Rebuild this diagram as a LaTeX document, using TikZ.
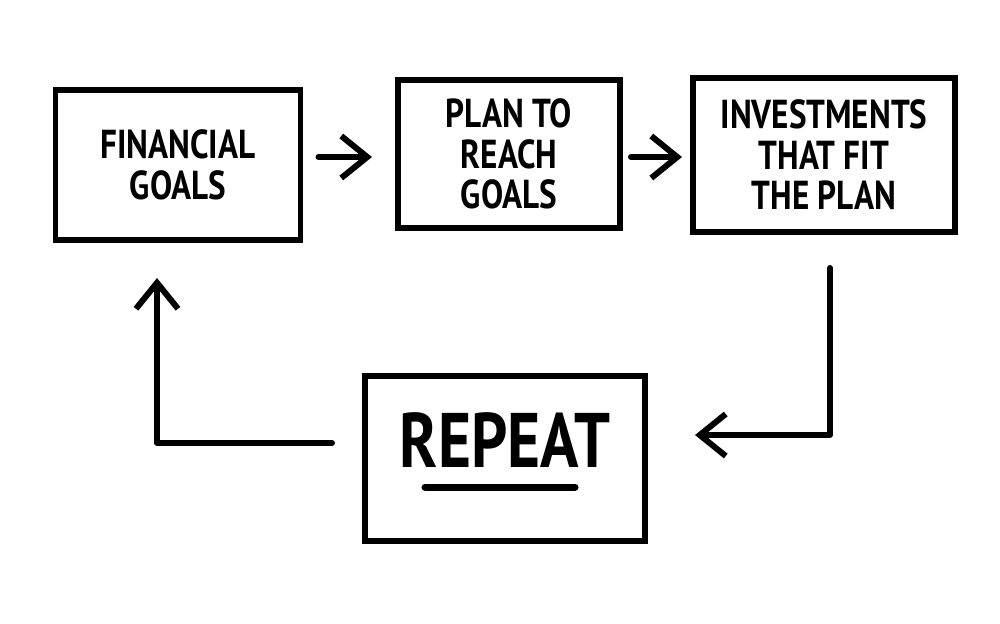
\documentclass[tikz,border=0pt]{standalone}
\usepackage{fontspec}
\setmainfont{PT Sans}[FakeStretch=0.82]
\usetikzlibrary{arrows.meta}
\tikzset{
>={Straight Barb[length=2.6mm,width=4.2mm]},
box/.style={draw,line width=1.7pt,align=center,inner sep=0pt,
  font=\fontsize{11.5}{11.5}\selectfont\bfseries},
freccia/.style={->,line width=1.7pt,line cap=round,line join=round}}

\begin{document}
\begin{tikzpicture}[y=-1cm]
\useasboundingbox (0,0) rectangle (10,6.23);

\node[box,minimum width=2.45cm,minimum height=1.5cm] (fin) at (1.78,1.65) {FINANCIAL\\GOALS};
\node[box,minimum width=2.22cm,minimum height=1.48cm] (plan) at (5.09,1.54) {PLAN TO\\REACH\\GOALS};
\node[box,minimum width=2.62cm,minimum height=1.54cm] (inv) at (8.24,1.55) {INVESTMENTS\\THAT FIT\\THE PLAN};
\node[box,minimum width=2.8cm,minimum height=1.65cm,text depth=0.36cm,
  font=\fontsize{22}{22}\selectfont\bfseries] (rep) at (5.05,4.58) {REPEAT};

\coordinate (r1) at (0,1.57);
\coordinate (c1) at (8.3,4.35);
\coordinate (c2) at (1.57,4.43);

% underline of REPEAT
\draw[line width=2pt,line cap=round] ([xshift=-0.8cm,yshift=-0.29cm]rep.center) -- ([xshift=0.7cm,yshift=-0.29cm]rep.center);

\path[freccia,shorten <=1.5mm,shorten >=2.3mm] (fin.east |- r1) edge (plan.west |- r1);
\path[freccia,shorten <=0.8mm,shorten >=0.8mm] (plan.east |- r1) edge (inv.west |- r1);
\draw[freccia,shorten <=3.3mm,shorten >=0.47cm] (inv.south -| c1) -- (c1) -- (c1 -| rep.east);
\draw[freccia,shorten <=0.3cm,shorten >=0.35cm] (rep.west |- c2) -- (c2) -- (c2 |- fin.south);

\end{tikzpicture}
\end{document}
